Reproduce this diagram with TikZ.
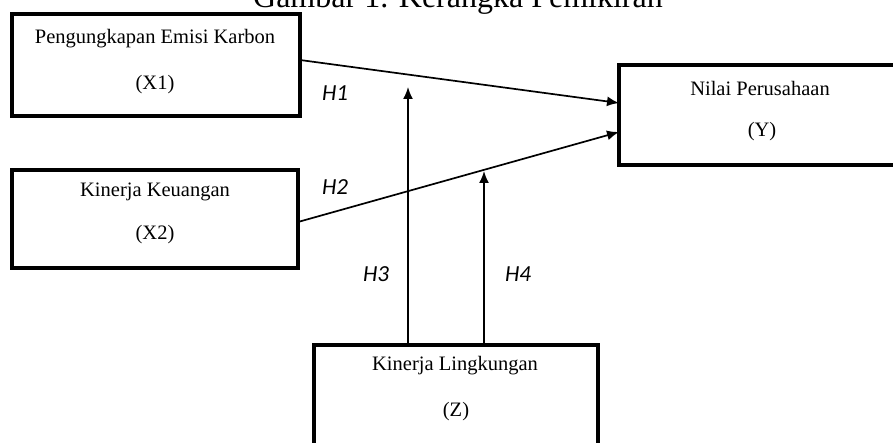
\documentclass[tikz,border=0pt]{standalone}
\usepackage{fontspec}
\setmainfont{Liberation Serif}
\newfontfamily\hfont{Carlito}
\usetikzlibrary{arrows.meta,calc}
\begin{document}
\begin{tikzpicture}[x=1pt,y=-1pt,
  box/.style={draw, line width=4.5pt, inner sep=0pt, outer sep=0pt},
  boxtext/.style={font=\fontsize{20.5}{22}\selectfont, inner sep=0pt, anchor=center},
  hlabel/.style={font=\hfont\itshape\fontsize{23}{26}\selectfont, inner sep=0pt},
  link/.style={line width=1.7pt, -{Latex[length=12pt,width=10pt]}},
  lift/.style={line width=1.7pt, -{Latex[length=12pt,width=10pt]}}]
\useasboundingbox (0,0) rectangle (893,443);
\clip (0,0) rectangle (893,443);
\fill[white] (0,0) rectangle (893,443);

\node[font=\fontsize{32}{36}\selectfont, inner sep=0pt, anchor=base] (title) at (458,8) {Gambar 1. Kerangka Pemikiran};

\node[box, minimum width=288pt, minimum height=102pt] (x1) at (156,65) {};
\node[box, minimum width=286pt, minimum height=98pt] (x2) at (155,219) {};
\node[box, minimum width=286pt, minimum height=100pt] (yy) at (762,115) {};
\node[box, minimum width=284pt, minimum height=100pt] (zz) at (456,395) {};

\node[boxtext] (x1a) at (155,39) {Pengungkapan Emisi Karbon};
\node[boxtext] (x1b) at (155,85) {(X1)};
\node[boxtext] (x2a) at (155,192) {Kinerja Keuangan};
\node[boxtext] (x2b) at (155,235) {(X2)};
\node[boxtext] (ya) at (760,88) {Nilai Perusahaan};
\node[boxtext] (yb) at (762,132) {(Y)};
\node[boxtext] (za) at (455,366) {Kinerja Lingkungan};
\node[boxtext] (zb) at (456,412) {(Z)};

\coordinate (t1) at (408,87);
\coordinate (t2) at (484,171);

\draw[link] ([yshift=5pt]x1.east) -- ([yshift=12pt]yy.west);
\draw[link] ([yshift=-3pt]x2.east) -- ([yshift=-17pt]yy.west);
\draw[lift] ([xshift=-48pt]zz.north) -- (t1);
\draw[lift] ([xshift=28pt]zz.north) -- (t2);

\node[hlabel] (h1) at (335,93) {H1};
\node[hlabel] (h2) at (335,187) {H2};
\node[hlabel] (h3) at (376,274) {H3};
\node[hlabel] (h4) at (518,274) {H4};
\end{tikzpicture}
\end{document}
